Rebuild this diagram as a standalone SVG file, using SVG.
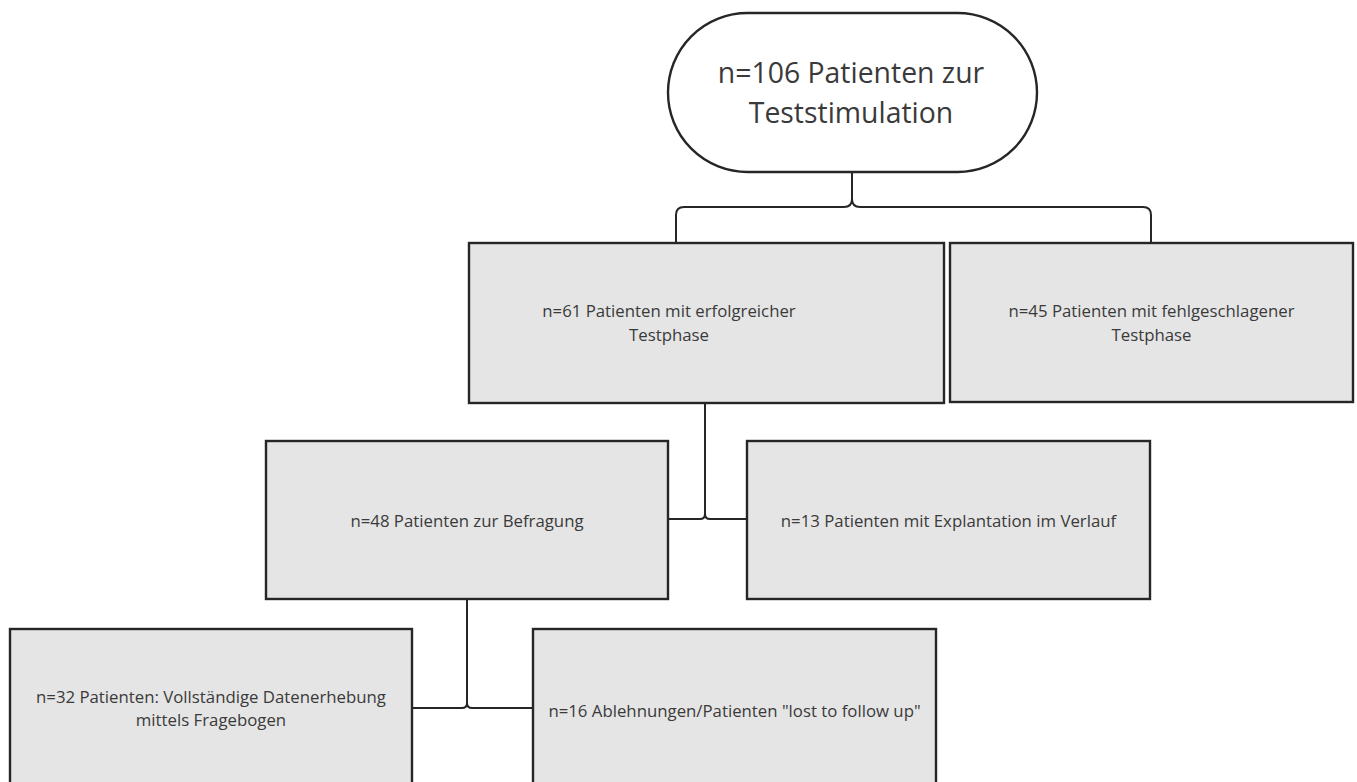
<svg xmlns="http://www.w3.org/2000/svg" width="1357" height="782" viewBox="0 0 1357 782">
<style>
.box{fill:#e5e5e5;stroke:#262626;stroke-width:2.4}
.term{fill:#ffffff;stroke:#262626;stroke-width:2.4}
.t{font-family:"Open Sans","Noto Sans",sans-serif;font-size:16.8px;fill:#3a3a3a;text-anchor:middle}
.tl{font-family:"Open Sans","Noto Sans",sans-serif;font-size:28.4px;fill:#3a3a3a;text-anchor:middle}
.c{fill:none;stroke:#262626;stroke-width:2}
</style>
<rect width="1357" height="782" fill="#ffffff"/>
<g id="connectors">
<path class="c" d="M852,172 V199 Q852,207 860,207 H1143 Q1151,207 1151,215 V243"/>
<path class="c" d="M852,199 Q852,207 844,207 H684 Q676,207 676,215 V243"/>
<path class="c" d="M705,403 V514 Q705,519 700,519 H668"/>
<path class="c" d="M705,514 Q705,519 710,519 H747"/>
<path class="c" d="M467,600 V703 Q467,708 462,708 H412"/>
<path class="c" d="M467,703 Q467,708 472,708 H533"/>
</g>
<g id="n106">
<rect class="term" x="668" y="13" width="369" height="159" rx="79.5" ry="79.5"/>
<text class="tl" x="851" y="83">n=106 Patienten zur</text>
<text class="tl" x="851" y="123">Teststimulation</text>
</g>
<g id="n61">
<rect class="box" x="469" y="243" width="475" height="160"/>
<text class="t" x="669" y="317">n=61 Patienten mit erfolgreicher</text>
<text class="t" x="669" y="341">Testphase</text>
</g>
<g id="n45">
<rect class="box" x="950" y="243" width="403" height="159"/>
<text class="t" x="1151.5" y="317">n=45 Patienten mit fehlgeschlagener</text>
<text class="t" x="1151.5" y="341">Testphase</text>
</g>
<g id="n48">
<rect class="box" x="266" y="441" width="402" height="158"/>
<text class="t" x="467" y="527">n=48 Patienten zur Befragung</text>
</g>
<g id="n13">
<rect class="box" x="747" y="441" width="403" height="158"/>
<text class="t" x="948.5" y="527">n=13 Patienten mit Explantation im Verlauf</text>
</g>
<g id="n32">
<rect class="box" x="10" y="629" width="402" height="162"/>
<text class="t" x="211" y="703">n=32 Patienten: Vollständige Datenerhebung</text>
<text class="t" x="211" y="726">mittels Fragebogen</text>
</g>
<g id="n16">
<rect class="box" x="533" y="629" width="403" height="162"/>
<text class="t" x="734.5" y="717">n=16 Ablehnungen/Patienten "lost to follow up"</text>
</g>
</svg>
